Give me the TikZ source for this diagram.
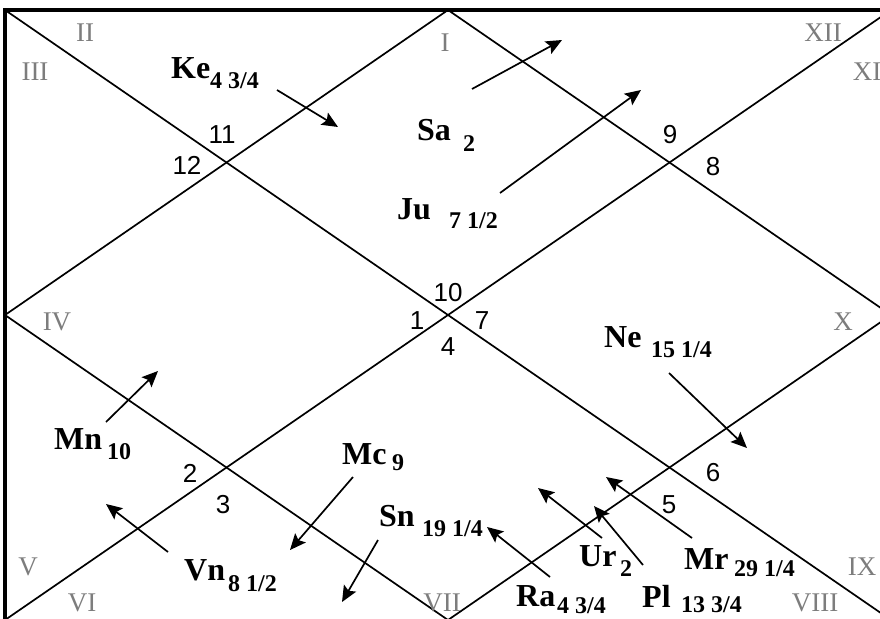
\documentclass[tikz,border=0pt]{standalone}
\usepackage{fontspec}
\setmainfont{Liberation Serif}
\setsansfont{Liberation Sans}
\usetikzlibrary{arrows.meta}
\definecolor{rashigray}{RGB}{125,125,125}
\begin{document}
\begin{tikzpicture}[x=1pt,y=-1pt,
  chart/.style={line width=1.7pt},
  frame/.style={line width=4pt},
  house/.style={font=\sffamily\fontsize{26}{26}\selectfont, inner sep=0pt},
  rashi/.style={font=\fontsize{27}{27}\selectfont, text=rashigray, inner sep=0pt},
  planet/.style={font=\bfseries\fontsize{32}{32}\selectfont, inner sep=0pt, anchor=west},
  deg/.style={font=\bfseries\fontsize{24}{24}\selectfont, inner sep=0pt, anchor=west},
  mover/.style={line width=1.7pt, -{Stealth[length=16pt,width=14pt,inset=3pt]}}]
\useasboundingbox (0,0) rectangle (880,618);
\clip (0,0) rectangle (880,618);
% chart frame
\coordinate (TL) at (5,10);
\coordinate (TR) at (891,10);
\coordinate (BL) at (5,620);
\coordinate (BR) at (891,620);
\coordinate (T) at (448,10);
\coordinate (R) at (891,315);
\coordinate (B) at (448,620);
\coordinate (L) at (5,315);
\draw[chart] (TL) -- (BR);
\draw[chart] (BL) -- (TR);
\draw[chart] (T) -- (R) -- (B) -- (L) -- cycle;
\draw[frame] (BL) -- (TL) -- (TR);
% rashi numerals
\node[rashi] (rII) at (85,33) {II};
\node[rashi] (rIII) at (35,72) {III};
\node[rashi] (rI) at (445,43) {I};
\node[rashi] (rXII) at (823,33) {XII};
\node[rashi] (rXI) at (867,72) {XI};
\node[rashi] (rIV) at (57,322) {IV};
\node[rashi] (rX) at (843,322) {X};
\node[rashi] (rV) at (28,567) {V};
\node[rashi] (rVI) at (82,603) {VI};
\node[rashi] (rVII) at (442,603) {VII};
\node[rashi] (rVIII) at (815,603) {VIII};
\node[rashi] (rIX) at (862,567) {IX};
% house numbers
\node[house] (h11) at (222,135) {11};
\node[house] (h12) at (187,165) {12};
\node[house] (h9) at (670,135) {9};
\node[house] (h8) at (713,167) {8};
\node[house] (h10) at (448,293) {10};
\node[house] (h1) at (417,321) {1};
\node[house] (h7) at (482,321) {7};
\node[house] (h4) at (448,347) {4};
\node[house] (h2) at (190,473) {2};
\node[house] (h3) at (223,505) {3};
\node[house] (h6) at (713,473) {6};
\node[house] (h5) at (669,505) {5};
% planets
\node[planet] (ke) at (171,68) {Ke};
\node[deg] (ked) at (210,81) {4 3/4};
\node[planet] (sa) at (417,130) {Sa};
\node[deg] (sad) at (463,144) {2};
\node[planet] (ju) at (397,209) {Ju};
\node[deg] (jud) at (449,221) {7 1/2};
\node[planet] (ne) at (604,337) {Ne};
\node[deg] (ned) at (651,350) {15 1/4};
\node[planet] (mn) at (54,439) {Mn};
\node[deg] (mnd) at (107,452) {10};
\node[planet] (mc) at (342,454) {Mc};
\node[deg] (mcd) at (392,463) {9};
\node[planet] (sn) at (379,516) {Sn};
\node[deg] (snd) at (422,529) {19 1/4};
\node[planet] (vn) at (184,570) {Vn};
\node[deg] (vnd) at (228,584) {8 1/2};
\node[planet] (ra) at (516,596) {Ra};
\node[deg] (rad) at (557,606) {4 3/4};
\node[planet] (ur) at (579,556) {Ur};
\node[deg] (urd) at (620,569) {2};
\node[planet] (pl) at (642,596) {Pl};
\node[deg] (pld) at (681,605) {13 3/4};
\node[planet] (mr) at (684,559) {Mr};
\node[deg] (mrd) at (734,569) {29 1/4};
% arrow ends
\coordinate (keA) at (277,90);  \coordinate (keB) at (338,127);
\coordinate (saA) at (472,89);  \coordinate (saB) at (562,40);
\coordinate (juA) at (500,193); \coordinate (juB) at (641,90);
\coordinate (neA) at (669,373); \coordinate (neB) at (747,448);
\coordinate (mnA) at (106,422); \coordinate (mnB) at (158,371);
\coordinate (mcA) at (353,477); \coordinate (mcB) at (290,550);
\coordinate (snA) at (378,540); \coordinate (snB) at (342,602);
\coordinate (vnA) at (168,552); \coordinate (vnB) at (106,504);
\coordinate (raA) at (550,577); \coordinate (raB) at (487,527);
\coordinate (urA) at (602,538); \coordinate (urB) at (538,488);
\coordinate (plA) at (643,565); \coordinate (plB) at (594,506);
\coordinate (mrA) at (692,538); \coordinate (mrB) at (606,477);
\foreach \p in {ke,sa,ju,ne,mn,mc,sn,vn,ra,ur,pl,mr}
  \draw[mover] (\p A) -- (\p B);
\end{tikzpicture}
\end{document}
